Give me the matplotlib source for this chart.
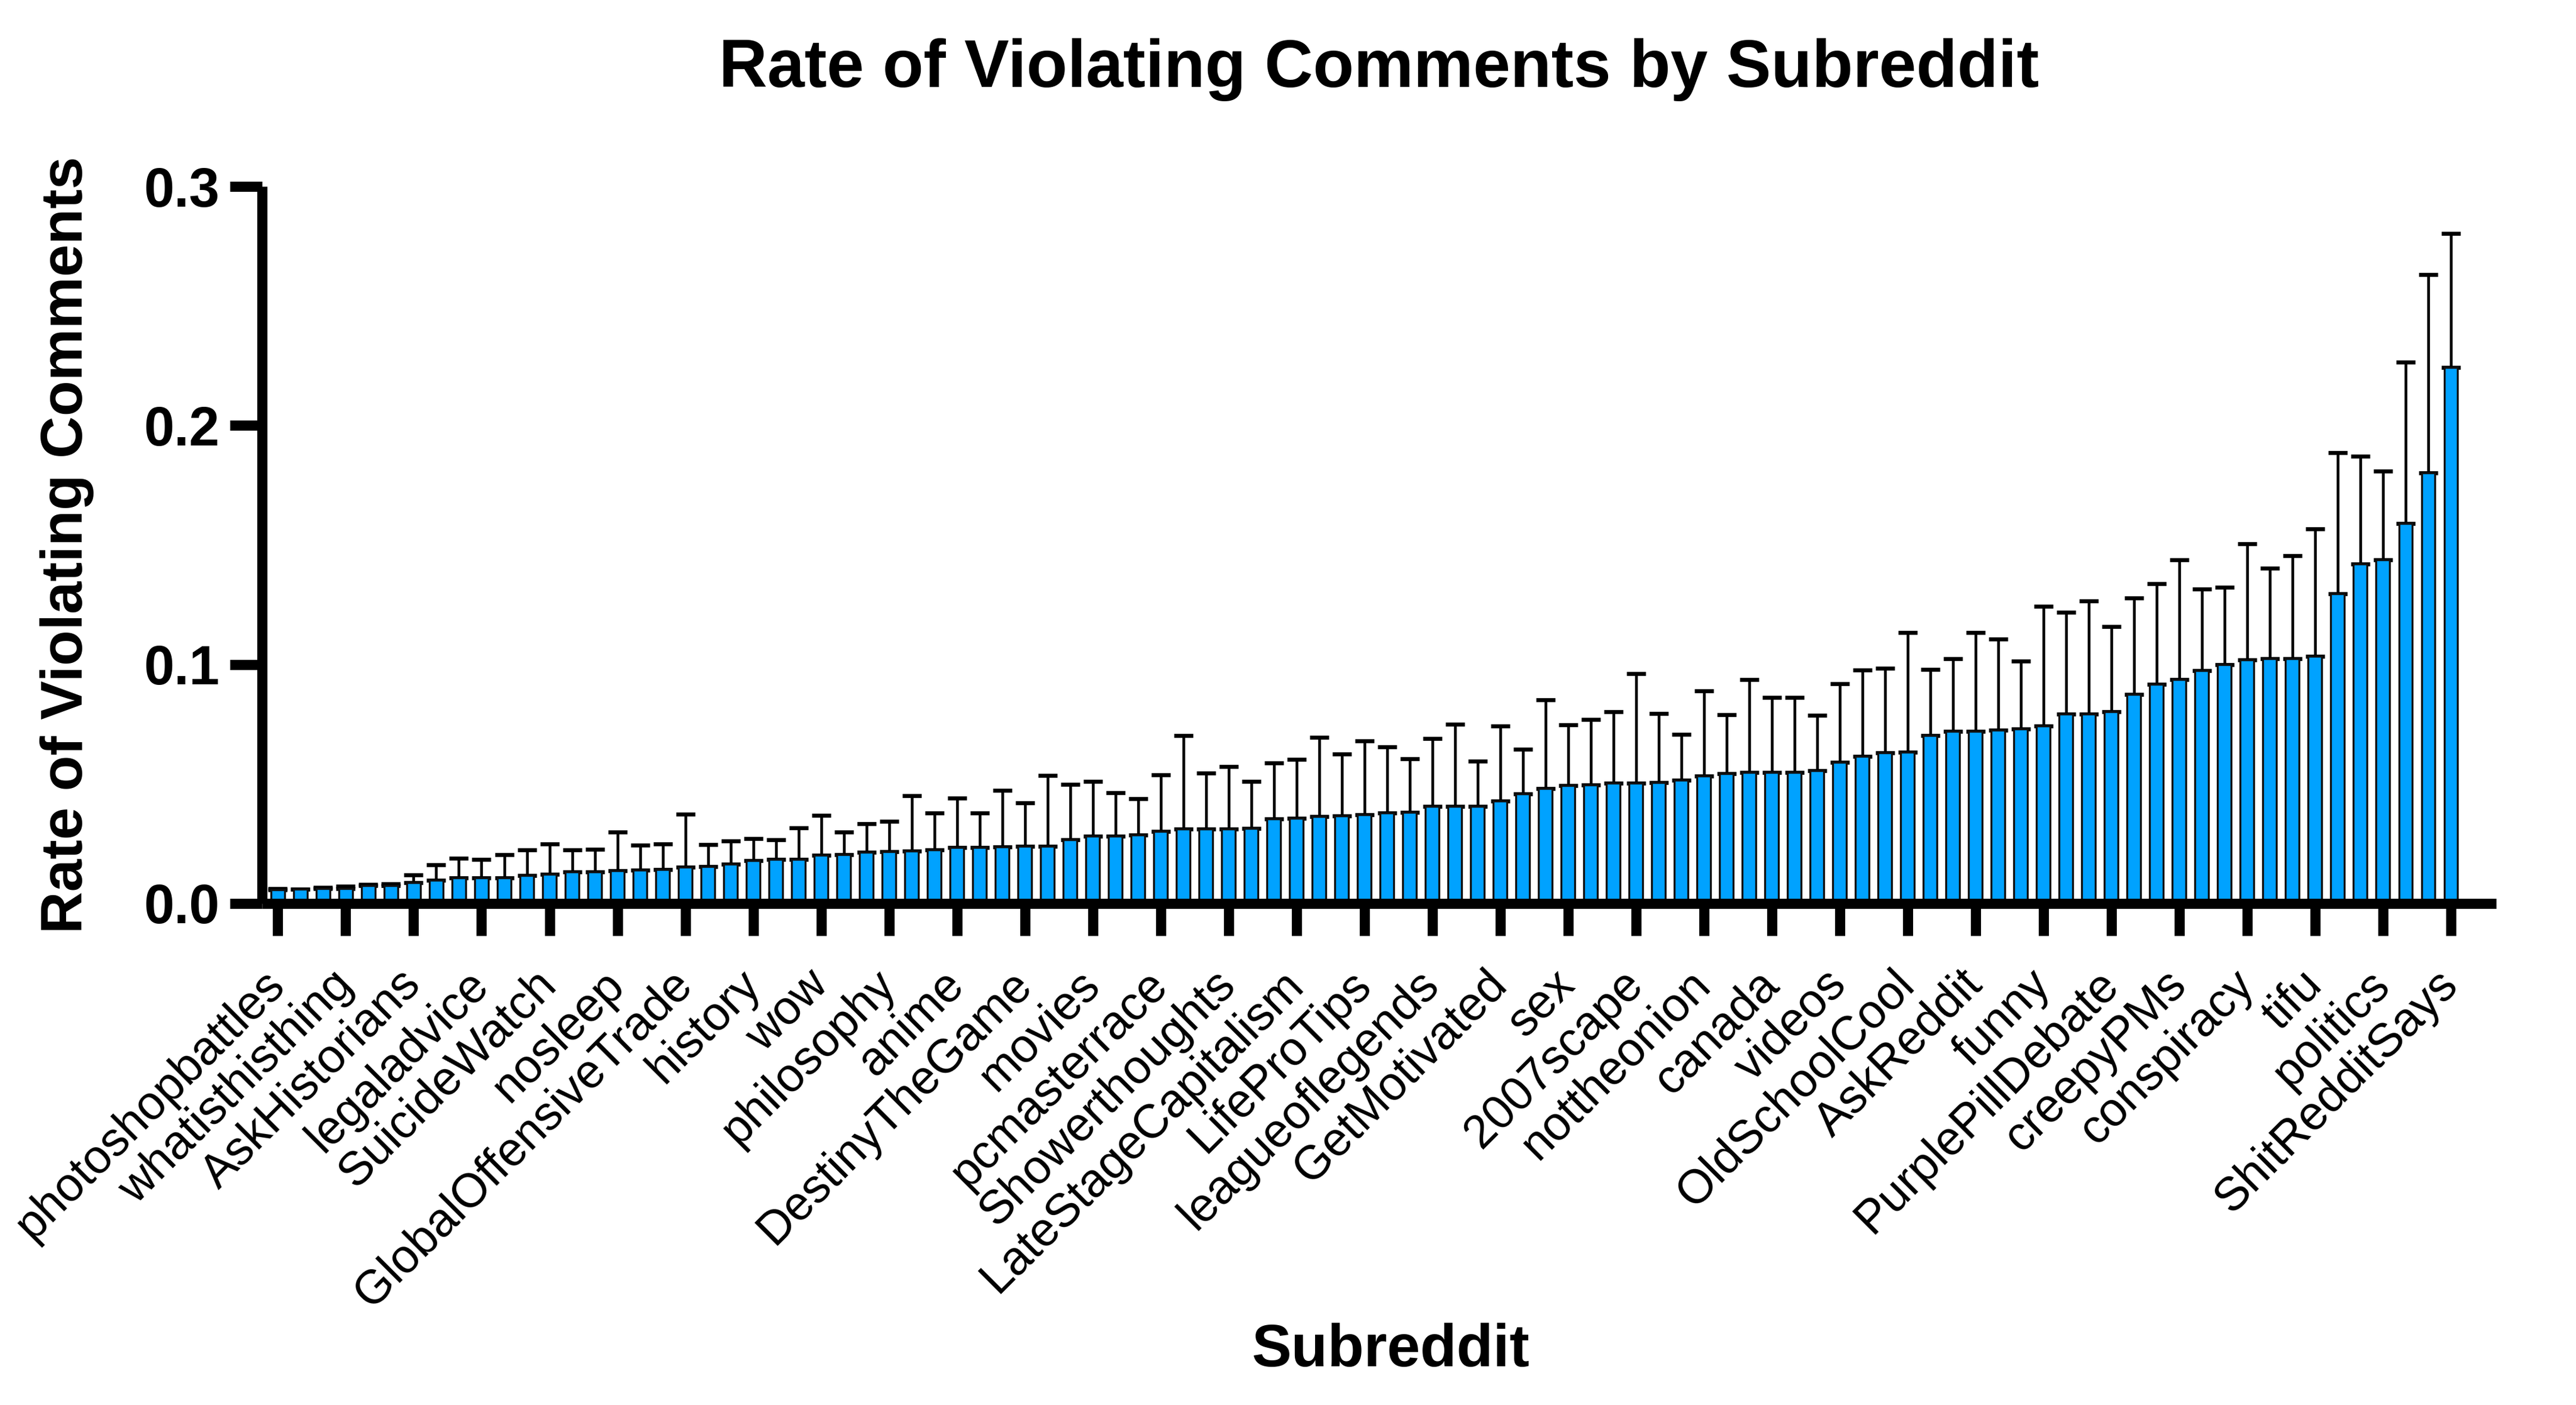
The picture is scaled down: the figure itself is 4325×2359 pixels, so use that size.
import numpy as np
import matplotlib.pyplot as plt

# bar heights, sorted ascending (97 subreddits, only every 3rd is labelled)
rate = [0.0056, 0.0059, 0.0063, 0.0063, 0.0074, 0.0074, 0.0086, 0.0098, 0.0107, 0.0107,
        0.0108, 0.0116, 0.0121, 0.0132, 0.0132, 0.0136, 0.0138, 0.0142, 0.0151, 0.0153,
        0.0163, 0.0178, 0.0185, 0.0185, 0.0201, 0.0204, 0.0215, 0.0217, 0.0219, 0.0225,
        0.0234, 0.0234, 0.0237, 0.0239, 0.0239, 0.0267, 0.0280, 0.0282, 0.0285, 0.0300,
        0.0310, 0.0310, 0.0312, 0.0314, 0.0353, 0.0355, 0.0363, 0.0365, 0.0370, 0.0378,
        0.0382, 0.0405, 0.0405, 0.0407, 0.0429, 0.0459, 0.0480, 0.0494, 0.0496, 0.0502,
        0.0504, 0.0506, 0.0516, 0.0534, 0.0543, 0.0547, 0.0549, 0.0549, 0.0556, 0.0591,
        0.0614, 0.0629, 0.0632, 0.0702, 0.0721, 0.0721, 0.0725, 0.0729, 0.0742, 0.0792,
        0.0792, 0.0802, 0.0875, 0.0917, 0.0937, 0.0973, 0.1000, 0.1019, 0.1023, 0.1023,
        0.1035, 0.1296, 0.1419, 0.1437, 0.1590, 0.1802, 0.2242]

# top of the error bar for each subreddit
upper = [0.0063, 0.0059, 0.0068, 0.0072, 0.0080, 0.0082, 0.0118, 0.0161, 0.0190, 0.0185,
         0.0203, 0.0224, 0.0249, 0.0224, 0.0226, 0.0299, 0.0244, 0.0249, 0.0373, 0.0246,
         0.0261, 0.0271, 0.0266, 0.0316, 0.0369, 0.0299, 0.0333, 0.0344, 0.0451, 0.0378,
         0.0440, 0.0378, 0.0473, 0.0422, 0.0536, 0.0498, 0.0511, 0.0463, 0.0437, 0.0538,
         0.0702, 0.0546, 0.0572, 0.0511, 0.0587, 0.0602, 0.0694, 0.0625, 0.0679, 0.0654,
         0.0605, 0.0689, 0.0749, 0.0594, 0.0741, 0.0644, 0.0851, 0.0747, 0.0769, 0.0801,
         0.0962, 0.0794, 0.0708, 0.0889, 0.0789, 0.0937, 0.0863, 0.0861, 0.0786, 0.0919,
         0.0976, 0.0983, 0.1133, 0.0979, 0.1025, 0.1133, 0.1106, 0.1015, 0.1242, 0.1219,
         0.1265, 0.1158, 0.1279, 0.1337, 0.1438, 0.1315, 0.1323, 0.1506, 0.1402, 0.1454,
         0.1567, 0.1885, 0.1871, 0.1808, 0.2265, 0.2631, 0.2804]

labels = ['photoshopbattles', 'whatisthisthing', 'AskHistorians', 'legaladvice',
          'SuicideWatch', 'nosleep', 'GlobalOffensiveTrade', 'history', 'wow',
          'philosophy', 'anime', 'DestinyTheGame', 'movies', 'pcmasterrace',
          'Showerthoughts', 'LateStageCapitalism', 'LifeProTips', 'leagueoflegends',
          'GetMotivated', 'sex', '2007scape', 'nottheonion', 'canada', 'videos',
          'OldSchoolCool', 'AskReddit', 'funny', 'PurplePillDebate', 'creepyPMs',
          'conspiracy', 'tifu', 'politics', 'ShitRedditSays']

plt.rcParams['font.family'] = ['Liberation Sans', 'DejaVu Sans']

rate = np.array(rate)
upper = np.array(upper)
x = np.arange(len(rate))

fig = plt.figure(figsize=(4325 / 300, 2359 / 300), dpi=300)
ax = fig.add_axes([0.1017, 0.357, 0.8673, 0.5103])

ax.bar(x, rate, width=0.6, color='#00A2FF', edgecolor='#111111', linewidth=0.8, zorder=2)
ax.errorbar(x, rate, yerr=[np.zeros_like(rate), upper - rate], fmt='none',
            ecolor='black', elinewidth=1.1, capsize=3.8, capthick=1.6, zorder=1)

ax.set_xlim(-0.7, 98)
ax.set_ylim(0, 0.3)
ax.set_yticks([0.0, 0.1, 0.2, 0.3])
ax.set_yticklabels(['0.0', '0.1', '0.2', '0.3'], fontsize=22, fontweight='bold')
ax.set_xticks(x[::3])
ax.set_xticklabels(labels, fontsize=19, rotation=45, ha='right', va='center',
                   rotation_mode='anchor')

for s in ['top', 'right']:
    ax.spines[s].set_visible(False)
for s in ['left', 'bottom']:
    ax.spines[s].set_linewidth(4.1)
    ax.spines[s].set_capstyle('butt')
ax.tick_params(axis='both', length=13, width=4.1)
ax.tick_params(axis='y', pad=4)
ax.tick_params(axis='x', pad=17)

ax.set_title('Rate of Violating Comments by Subreddit', fontsize=27, fontweight='bold', pad=40)
ax.set_ylabel('Rate of Violating Comments', fontsize=23.5, fontweight='bold', labelpad=20)
ax.set_xlabel('Subreddit', fontsize=24, fontweight='bold')
ax.xaxis.set_label_coords(0.505, -0.585)

fig.savefig('out.png', dpi=300)
